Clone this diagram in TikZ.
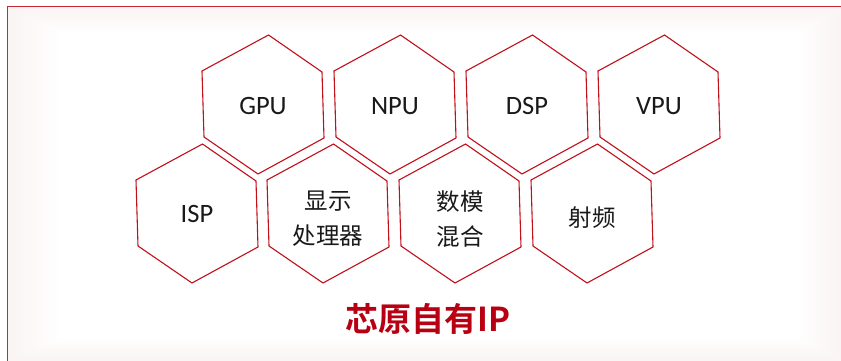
\documentclass[tikz,border=0pt]{standalone}
\usepackage{fontspec}
\setmainfont{Carlito}
\newfontfamily\cjk{Noto Sans CJK SC}
\newfontfamily\cjkbold{Noto Sans CJK SC Bold}
\definecolor{hexred}{RGB}{192,16,26}
\definecolor{titlered}{RGB}{184,0,18}
\definecolor{framered}{RGB}{200,40,50}
\definecolor{bgpink}{RGB}{250,244,244}
\tikzset{
  hexline/.style={draw=hexred, line width=1.1pt, line join=miter},
  lattxt/.style={font=\fontsize{26.5}{30}\selectfont, text=black!90},
  cjktxt/.style={font=\cjk\fontsize{23.5}{35}\selectfont, text=black!90, align=center},
  titletxt/.style={font=\cjkbold\fontsize{33}{36}\selectfont, text=titlered},
}
\newcommand\hexcell[2]{%
  \begin{scope}[shift={(#1,#2)}]
    \draw[hexline] (0,0) -- (66.5,-36) -- (120,1) -- (122,67) -- (56,103) -- (2,66) -- cycle;
  \end{scope}}
\begin{document}
\begin{tikzpicture}[x=1pt,y=-1pt]
\useasboundingbox (0,0) rectangle (841,361);
\fill[white] (0,0) rectangle (841,361);
% soft pink background with lighter centre
\fill[bgpink] (7,7) rectangle (841,361);
\foreach \i in {1,...,12}{
  \pgfmathsetmacro{\pct}{100-8*\i}
  \fill[bgpink!\pct!white] (7+4.4*\i,7+2.2*\i) rectangle (841-3.4*\i,361-1.9*\i);
}
\fill[white] (60,33) rectangle (800,338);
% frame
\draw[framered, line width=1pt] (7,361) -- (7,7) -- (841,7);
% hexagons row 1
\hexcell{202}{71}
\hexcell{334}{71}
\hexcell{466}{71}
\hexcell{598}{71}
% hexagons row 2
\hexcell{136}{180}
\hexcell{267}{180}
\hexcell{399}{180}
\hexcell{531}{180}
% labels
\node[lattxt] (gpu) at (263,106) {GPU};
\node[lattxt] (npu) at (395,106) {NPU};
\node[lattxt] (dsp) at (527,106) {DSP};
\node[lattxt] (vpu) at (659,106) {VPU};
\node[lattxt] (isp) at (197,214) {ISP};
\node[cjktxt] (disp) at (328,219) {显示\\处理器};
\node[cjktxt] (mix) at (460,219) {数模\\混合};
\node[cjktxt] (rf) at (592,218) {射频};
\node[titletxt] (title) at (428,319) {芯原自有IP};
\end{tikzpicture}
\end{document}
